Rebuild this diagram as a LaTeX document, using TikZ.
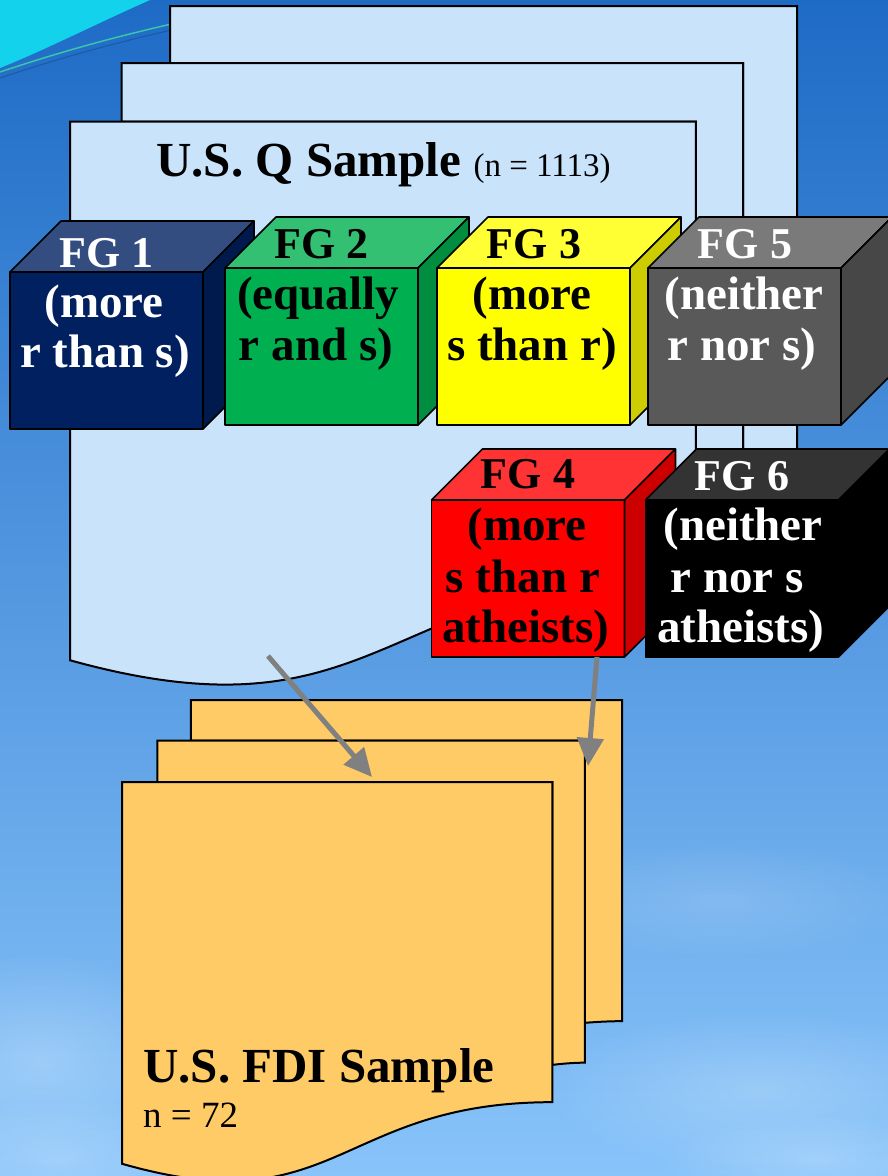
\documentclass[tikz,border=0pt]{standalone}
\usepackage{fontspec}
\setmainfont{Liberation Serif}
\usetikzlibrary{arrows.meta,fadings}
\definecolor{bgtop}{HTML}{1E6BC6}
\definecolor{bgmid}{HTML}{4494E6}
\definecolor{bgbot}{HTML}{88C4FA}
\definecolor{swoosh}{HTML}{12D2EC}
\definecolor{swline}{HTML}{3CC4A8}
\definecolor{qfill}{HTML}{C9E3FA}
\definecolor{fdifill}{HTML}{FFCB66}
\definecolor{arrowgray}{HTML}{808080}
\definecolor{fgAf}{HTML}{002060}\definecolor{fgAt}{HTML}{334D80}\definecolor{fgAs}{HTML}{001A4D}
\definecolor{fgBf}{HTML}{00B050}\definecolor{fgBt}{HTML}{33C073}\definecolor{fgBs}{HTML}{008D40}
\definecolor{fgCf}{HTML}{FFFF00}\definecolor{fgCt}{HTML}{FFFF33}\definecolor{fgCs}{HTML}{CCCC00}
\definecolor{fgEf}{HTML}{595959}\definecolor{fgEt}{HTML}{7A7A7A}\definecolor{fgEs}{HTML}{474747}
\definecolor{fgDf}{HTML}{FF0000}\definecolor{fgDt}{HTML}{FF3333}\definecolor{fgDs}{HTML}{CC0000}
\definecolor{fgFf}{HTML}{000000}\definecolor{fgFt}{HTML}{333333}\definecolor{fgFs}{HTML}{000000}

\tikzfading[name=softcloud, inner color=transparent!30, outer color=transparent!100]

\newcommand\mdoc[5]{%
 \begin{scope}[shift={(#1,#2)}, x=#3pt, y=-#4pt]
  \filldraw[docline, fill=#5] (0.13759,0.08403) -- (0.13759,0) -- (1,0) -- (1,0.66630)
    .. controls (0.96296,0.66630) and (0.92593,0.66977) .. (0.92593,0.66977) -- (0.92593,0.08403) -- cycle;
  \filldraw[docline, fill=#5] (0.07093,0.17014) -- (0.07093,0.08403) -- (0.92593,0.08403) -- (0.92593,0.75241)
    .. controls (0.89343,0.75241) and (0.86088,0.75704) .. (0.86088,0.75704) -- (0.86088,0.17014) -- cycle;
  \filldraw[docline, fill=#5] (0,0.96213) .. controls (0.43046,1.08991) and (0.43046,0.83435) .. (0.86088,0.83435)
    -- (0.86088,0.17014) -- (0,0.17014) -- cycle;
 \end{scope}}

\newcommand\fgcube[5]{%
 \node[cubefront, fill=#3] (#1) at (#2) {};
 \filldraw[cubeline, fill=#4] (#1.north west) -- ++(51,-51) -- ++(193,0) -- (#1.north east) -- cycle;
 \filldraw[cubeline, fill=#5] (#1.north east) -- ++(51,-51) -- ++(0,157) -- (#1.south east) -- cycle;}

\tikzset{
 docline/.style={draw=black, line width=2pt, line join=miter},
 cubeline/.style={draw=black, line width=1.6pt, line join=round},
 cubefront/.style={cubeline, rectangle, minimum width=193pt, minimum height=157pt, inner sep=0pt, outer sep=0pt},
 fghead/.style={anchor=base, inner sep=0pt, font=\fontsize{44}{50}\selectfont\bfseries},
 fgline/.style={anchor=base, inner sep=0pt, font=\fontsize{47}{50}\selectfont\bfseries},
 bigtitle/.style={inner sep=0pt, font=\fontsize{49}{55}\selectfont\bfseries},
 flow/.style={draw=arrowgray, line width=5pt, -{Triangle[length=28pt,width=26pt]}},
 cloud/.style={fill=white, path fading=softcloud}
}

\begin{document}
\begin{tikzpicture}[x=1pt,y=-1pt]
\useasboundingbox (0,0) rectangle (888,1176);
% background
\begin{scope}
\clip (0,0) rectangle (888,1176);
\shade[top color=bgtop, middle color=bgmid, bottom color=bgbot] (0,0) rectangle (888,1176);
\fill[cloud, opacity=0.35] (40,1060) ellipse [x radius=170, y radius=110];
\fill[cloud, opacity=0.3] (60,1160) ellipse [x radius=160, y radius=60];
\fill[cloud, opacity=0.3] (760,1090) ellipse [x radius=220, y radius=80];
\fill[cloud, opacity=0.2] (720,900) ellipse [x radius=200, y radius=60];
\fill[cloud, opacity=0.3] (820,1160) ellipse [x radius=160, y radius=45];
\fill[swoosh] (0,0) -- (150,0) .. controls (100,22) and (45,50) .. (0,68) -- cycle;
\draw[swline, line width=1.5pt] (0,72) .. controls (60,52) and (110,38) .. (180,22);
\draw[bgtop!70!black, line width=1pt, opacity=0.6] (0,78) .. controls (60,58) and (110,44) .. (180,28);
\end{scope}

% U.S. Q sample stack
\mdoc{70}{6}{727}{680}{qfill}
\node[bigtitle, anchor=base] (qtitle) at (383.5,176) {U.S. Q Sample {\mdseries\fontsize{33}{33}\selectfont(n = 1113)}};

% focus group cubes, top row
\fgcube{fg1}{106.5,350.5}{fgAf}{fgAt}{fgAs}
\node[fghead, text=white] (fg1a) at (106.5,267) {FG 1};
\node[fgline, text=white] (fg1b) at (104,317) {(more};
\node[fgline, text=white] (fg1c) at (105,367) {r than s)};

\fgcube{fg2}{321.5,346.5}{fgBf}{fgBt}{fgBs}
\node[fghead, text=black] (fg2a) at (321.5,258) {FG 2};
\node[fgline, text=black] (fg2b) at (318,309) {(equally};
\node[fgline, text=black] (fg2c) at (316,360) {r and s)};

\fgcube{fg3}{533.5,346.5}{fgCf}{fgCt}{fgCs}
\node[fghead, text=black] (fg3a) at (534,258) {FG 3};
\node[fgline, text=black] (fg3b) at (532,309) {(more};
\node[fgline, text=black] (fg3c) at (532,360) {s than r)};

\fgcube{fg5}{744.5,346.5}{fgEf}{fgEt}{fgEs}
\node[fghead, text=white] (fg5a) at (745,258) {FG 5};
\node[fgline, text=white] (fg5b) at (744,309) {(neither};
\node[fgline, text=white] (fg5c) at (742,360) {r nor s)};

% second row
\fgcube{fg4}{528,578.5}{fgDf}{fgDt}{fgDs}
\node[fghead, text=black] (fg4a) at (528,488) {FG 4};
\node[fgline, text=black] (fg4b) at (527,540) {(more};
\node[fgline, text=black] (fg4c) at (523,592) {s than r};
\node[fgline, text=black] (fg4d) at (526,642) {atheists)};

\fgcube{fg6}{742,578.5}{fgFf}{fgFt}{fgFs}
\node[fghead, text=white] (fg6a) at (742,490) {FG 6};
\node[fgline, text=white] (fg6b) at (743,540) {(neither};
\node[fgline, text=white] (fg6c) at (737,592) {r nor s};
\node[fgline, text=white] (fg6d) at (741,642) {atheists)};

% U.S. FDI sample stack
\mdoc{122}{700}{500}{482}{fdifill}
\node[bigtitle, anchor=base west] (fdititle) at (143,1082) {U.S. FDI Sample};
\node[anchor=base west, inner sep=0pt, font=\fontsize{37}{40}\selectfont] (fdin) at (143,1127) {n = 72};

% connectors
\coordinate (qout) at (268,656);
\coordinate (fdiinA) at (372,777);
\coordinate (fdiinB) at (588,766);
\draw[flow] (qout) -- (fdiinA);
\draw[flow] ([xshift=69pt]fg4.south) -- (fdiinB);
\end{tikzpicture}
\end{document}
